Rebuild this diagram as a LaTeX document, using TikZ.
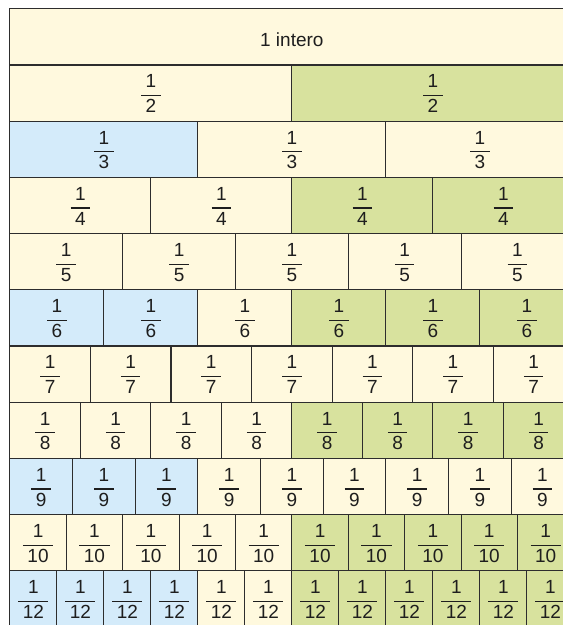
\documentclass[tikz,border=0pt]{standalone}
\usepackage{fontspec}
\setmainfont{Liberation Sans}
\definecolor{stripCream}{RGB}{255,249,222}
\definecolor{stripGreen}{RGB}{216,226,158}
\definecolor{stripBlue}{RGB}{212,235,250}
\definecolor{stripLine}{RGB}{45,45,45}
\definecolor{stripText}{RGB}{30,30,30}
\setlength{\arrayrulewidth}{1.1pt}
\newcommand{\unitfrac}[1]{\raisebox{-3pt}[\height][\depth]{%
  \begin{tabular}{@{\hspace{4.5pt}}c@{\hspace{4.5pt}}}1\\[1pt]\hline
  \rule{0pt}{16.5pt}#1\end{tabular}}}

\begin{document}
\begin{tikzpicture}[x=1pt,y=1pt,
    piece/.style={draw=stripLine, line width=1.1pt, inner sep=0pt,
      anchor=north west, minimum height=56.2pt,
      font=\fontsize{19}{20.5}\selectfont, text=stripText}]
  \useasboundingbox (0,0) rectangle (563,625);
  \fill[white] (0,0) rectangle (563,625);
  \clip (0,0) rectangle (563,625);

  \node[piece, fill=stripCream, minimum width=564pt] (whole) at (9.3,616.7)
    {\raisebox{-3pt}[\height][\depth]{1 intero}};

  \foreach \row/\den/\cols in {
      1/2/{Cream,Green},
      2/3/{Blue,Cream,Cream},
      3/4/{Cream,Cream,Green,Green},
      4/5/{Cream,Cream,Cream,Cream,Cream},
      5/6/{Blue,Blue,Cream,Green,Green,Green},
      6/7/{Cream,Cream,Cream,Cream,Cream,Cream,Cream},
      7/8/{Cream,Cream,Cream,Cream,Green,Green,Green,Green},
      8/9/{Blue,Blue,Blue,Cream,Cream,Cream,Cream,Cream,Cream},
      9/10/{Cream,Cream,Cream,Cream,Cream,Green,Green,Green,Green,Green},
      10/12/{Blue,Blue,Blue,Blue,Cream,Cream,
             Green,Green,Green,Green,Green,Green}}{
    \foreach[count=\i] \c in \cols{
      \node[piece, fill=strip\c, minimum width={564pt/\den}] (p\den-\i)
        at ({9.3+564*(\i-1)/\den},{616.7-56.2*\row}) {\unitfrac{\den}};}}
\end{tikzpicture}
\end{document}
